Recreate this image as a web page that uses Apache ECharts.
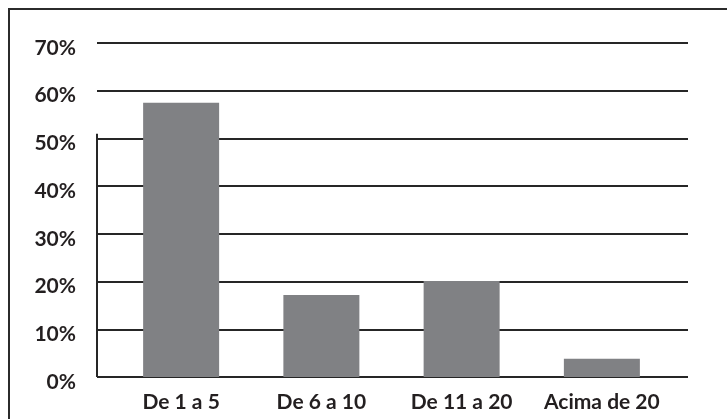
<!DOCTYPE html>
<html>
<head>
<meta charset="utf-8">
<script src="https://cdn.jsdelivr.net/npm/echarts@6/dist/echarts.min.js"></script>
<style>
html,body{margin:0;padding:0;background:#fff;}
#c{width:727px;height:419px;}
</style>
</head>
<body>
<div id="c"></div>
<script>
const categories = ['De 1 a 5', 'De 6 a 10', 'De 11 a 20', 'Acima de 20'];
const values = [57.5, 17.2, 20.1, 3.8];
const yTicks = [0, 10, 20, 30, 40, 50, 60, 70];
const axisLineTop = 51;

const textColor = '#231f20';
const font = 'Lato';
const chart = echarts.init(document.getElementById('c'), null, {renderer: 'canvas'});
chart.setOption({
  animation: false,
  backgroundColor: '#fff',
  graphic: [{
    type: 'polyline',
    shape: {points: [[9, 419], [9, 9], [727, 9]]},
    style: {stroke: '#2b2b2b', lineWidth: 2, fill: null}
  }],
  grid: [
    {left: 97, right: 39, top: 43, bottom: 42},
    {left: 111, right: 55, top: 43, bottom: 42}
  ],
  xAxis: [
    {gridIndex: 0, type: 'value', min: 0, max: 1, show: false},
    {gridIndex: 1, type: 'category', data: categories,
     axisLine: {show: false}, axisTick: {show: false},
     axisLabel: {interval: 0, color: textColor, fontFamily: font, fontWeight: 'bold', fontSize: 21, margin: 15}}
  ],
  yAxis: [
    {gridIndex: 0, type: 'value', min: yTicks[0], max: yTicks[yTicks.length - 1], interval: 10,
     axisLine: {show: false}, axisTick: {show: false},
     axisLabel: {formatter: '{value}%', color: textColor, fontFamily: font, fontWeight: 'bold', fontSize: 21, margin: 21, verticalAlign: 'top', lineHeight: 10},
     splitLine: {show: true, lineStyle: {color: '#262626', width: 2}}},
    {gridIndex: 1, type: 'value', min: yTicks[0], max: yTicks[yTicks.length - 1], interval: 10, show: false,
     splitLine: {show: false}}
  ],
  series: [
    {type: 'line', xAxisIndex: 0, yAxisIndex: 0, data: [[0, 0], [0, axisLineTop]],
     symbol: 'none', silent: true, lineStyle: {color: '#262626', width: 2}, z: 3},
    {type: 'bar', xAxisIndex: 1, yAxisIndex: 1, data: values, barWidth: 76,
     itemStyle: {color: '#808184'}, silent: true, z: 2}
  ]
});
</script>
</body>
</html>
